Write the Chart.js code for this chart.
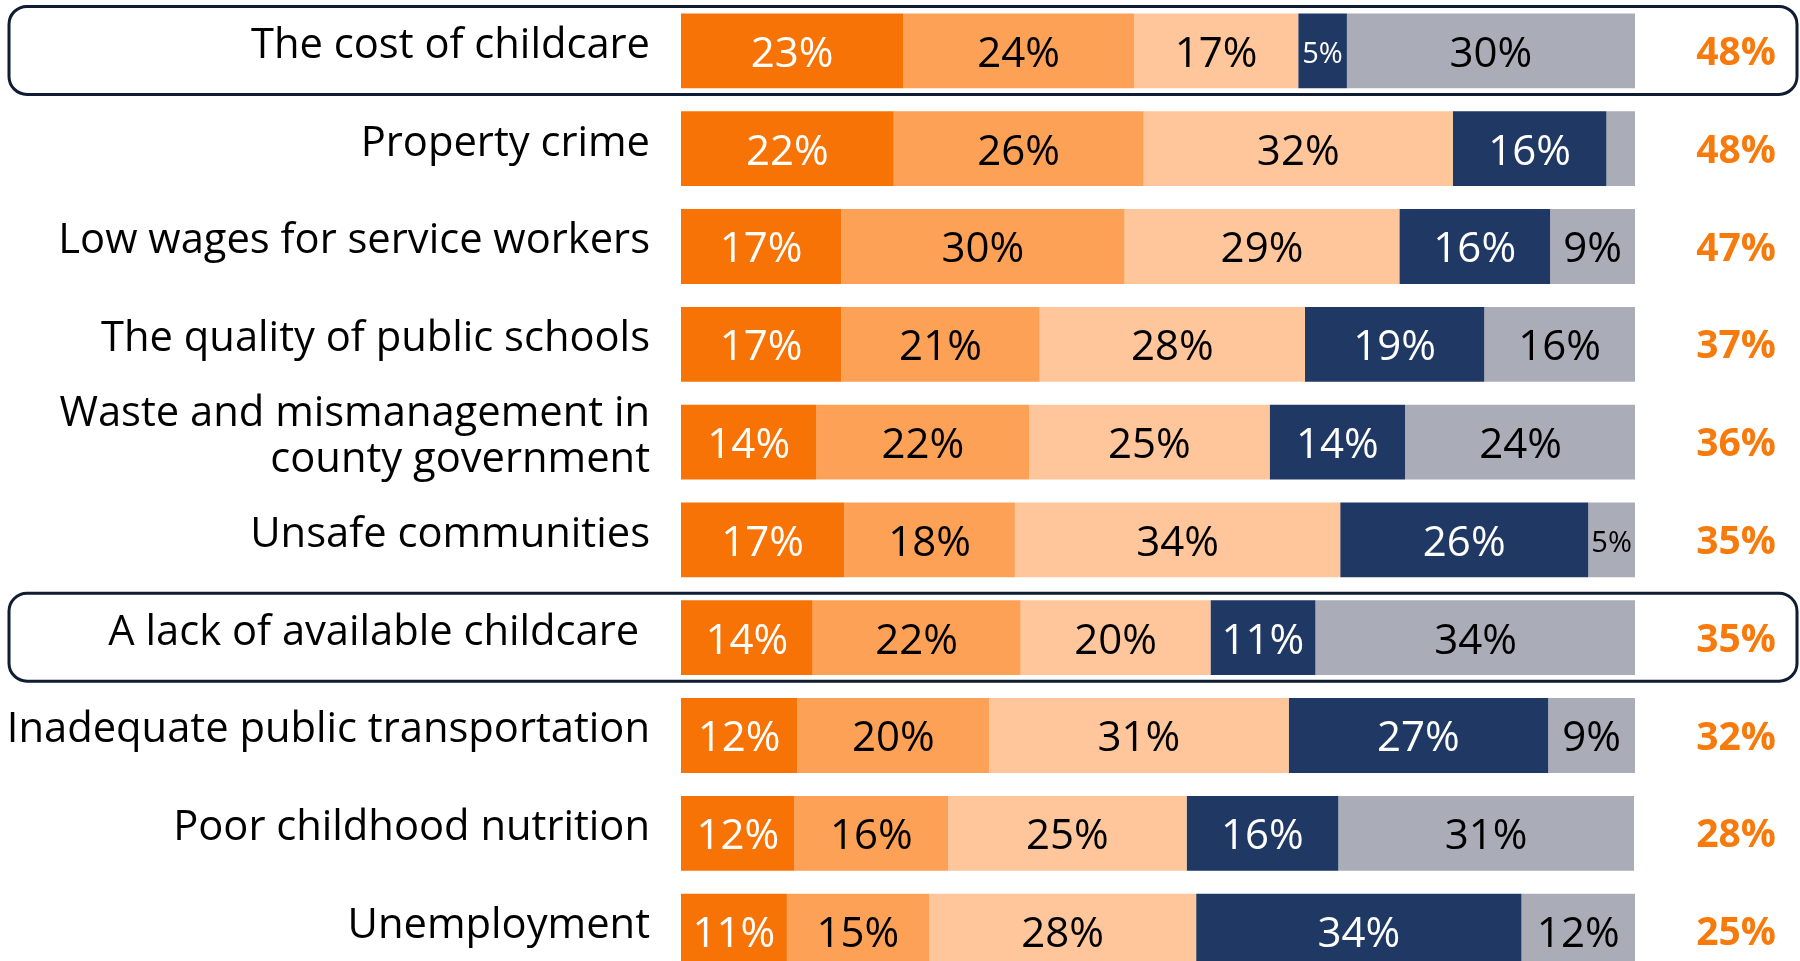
<!DOCTYPE html>
<html>
<head>
<meta charset="utf-8">
<script src="https://cdn.jsdelivr.net/npm/chart.js@4.4.1/dist/chart.umd.min.js"></script>
<style>
  html, body { margin: 0; padding: 0; background: #fff; overflow: hidden; }
  #wrap { position: relative; width: 1800px; height: 980px; }
</style>
</head>
<body>
<div id="wrap"><canvas id="myChart"></canvas></div>
<script>
// rows, top to bottom
var categories = [
    "The cost of childcare",
    "Property crime",
    "Low wages for service workers",
    "The quality of public schools",
    ["Waste and mismanagement in", "county government"],
    "Unsafe communities",
    "A lack of available childcare ",
    "Inadequate public transportation",
    "Poor childhood nutrition",
    "Unemployment"
];

// segment shares (labels show them rounded)
var verySerious     = [23.3, 22.3, 16.8, 16.8, 14.2, 17.1, 13.8, 12.2, 11.9, 11.1];
var somewhatSerious = [24.2, 26.2, 29.7, 20.8, 22.3, 17.9, 21.8, 20.1, 16.1, 14.9];
var notTooSerious   = [17.2, 32.4, 28.8, 27.8, 25.2, 34.1, 19.9, 31.4, 25.0, 28.0];
var notAProblem     = [5.1, 16.1, 15.8, 18.8, 14.2, 26.0, 11.0, 27.2, 15.9, 34.1];
var dontKnow        = [30.2, 3.0, 8.9, 15.8, 24.2, 4.9, 33.6, 9.1, 31.0, 11.9];

// column on the right
var totals = [48, 48, 47, 37, 36, 35, 35, 32, 28, 25];

// rows with a frame round them
var boxedRows = [0, 6];

var colors = ["#F87306", "#FCA155", "#FEC69A", "#1F3864", "#AAACB8"];
var textColors = ["#fff", "#000", "#000", "#fff", "#000"];

var segmentLabels = {
    id: "segmentLabels",
    afterDatasetsDraw: function(chart) {
        var ctx = chart.ctx;
        ctx.save();
        ctx.textAlign = "center";
        ctx.textBaseline = "middle";
        chart.data.datasets.forEach(function(ds, i) {
            chart.getDatasetMeta(i).data.forEach(function(bar, j) {
                var v = ds.data[j];
                if (v < 4) return;
                ctx.font = (v < 6 ? "29px" : "42px") + " 'Open Sans'";
                ctx.fillStyle = textColors[i];
                ctx.fillText(Math.round(v) + "%", (bar.x + bar.base) / 2, bar.y + 4);
            });
        });
        ctx.restore();
    }
};

var rightColumn = {
    id: "rightColumn",
    afterDraw: function(chart) {
        var ctx = chart.ctx;
        var y = chart.scales.y;
        ctx.save();
        ctx.textAlign = "center";
        ctx.textBaseline = "middle";
        ctx.font = "bold 39px 'Open Sans'";
        ctx.fillStyle = "#F77A0C";
        totals.forEach(function(t, i) {
            ctx.fillText(t + "%", 1736, y.getPixelForValue(i) + 3);
        });

        // frames
        ctx.strokeStyle = "#0F1C33";
        ctx.lineWidth = 3;
        boxedRows.forEach(function(i) {
            var cy = y.getPixelForValue(i);
            ctx.beginPath();
            ctx.roundRect(9, cy - 44.5, 1788, 88, 18);
            ctx.stroke();
        });
        ctx.restore();
    }
};

var ds = [verySerious, somewhatSerious, notTooSerious, notAProblem, dontKnow].map(function(d, i) {
    return {
        data: d,
        backgroundColor: colors[i],
        borderWidth: 0,
        barPercentage: 0.765,
        categoryPercentage: 1.0
    };
});

var ctx = document.getElementById("myChart");
var myChart = new Chart(ctx, {
    type: "bar",
    data: { labels: categories, datasets: ds },
    options: {
        indexAxis: "y",
        responsive: true,
        maintainAspectRatio: false,
        animation: false,
        layout: { padding: { top: 2, right: 165, bottom: 0, left: 0 } },
        plugins: {
            legend: { display: false },
            tooltip: { enabled: false }
        },
        scales: {
            x: { stacked: true, min: 0, max: 100, display: false },
            y: {
                stacked: true,
                grid: { display: false, drawTicks: false },
                border: { display: false },
                ticks: {
                    color: "#000",
                    padding: 31,
                    labelOffset: -5,
                    font: { family: "'Open Sans'", size: 41.7, lineHeight: 1.1 }
                },
                afterFit: function(scale) {
                    scale.width = 681;
                    scale.paddingTop = 0;
                    scale.paddingBottom = 0;
                }
            }
        }
    },
    plugins: [segmentLabels, rightColumn]
});
</script>
</body>
</html>
